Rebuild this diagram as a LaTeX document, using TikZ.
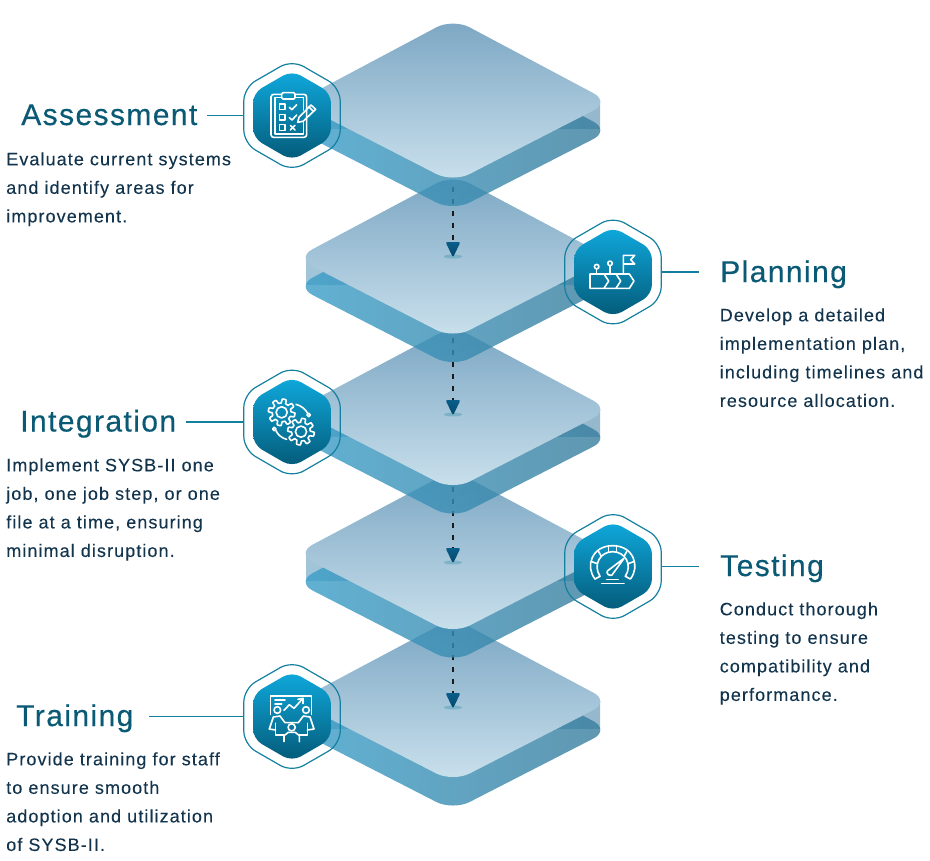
\documentclass[tikz,border=0pt]{standalone}
\usepackage{fontspec}
\setmainfont{Liberation Sans}
\newfontfamily\titlefont[LetterSpace=4.7,FakeBold=0.4]{Liberation Sans}
\newfontfamily\bodyfont[LetterSpace=6,FakeBold=0.1]{Liberation Sans}
\usetikzlibrary{shapes.geometric}
\definecolor{titlecol}{HTML}{0B5A75}
\definecolor{bodycol}{HTML}{12344D}
\definecolor{linecol}{HTML}{14809F}
\definecolor{coretop}{HTML}{0FA9DD}
\definecolor{coremid}{HTML}{0A83AE}
\definecolor{corebot}{HTML}{045A78}
\definecolor{sliverL}{HTML}{A0C4D8}
\definecolor{sliverR}{HTML}{95B8CC}
\definecolor{sideL}{HTML}{3A9EC9}
\definecolor{sideM}{HTML}{3F98C0}
\definecolor{sideR}{HTML}{387C9C}
\definecolor{topT}{HTML}{7BA6C3}
\definecolor{topB}{HTML}{CBE1ED}
\definecolor{arrowT}{HTML}{0A5E8A}
\definecolor{arrowB}{HTML}{04466B}
\definecolor{shadowc}{HTML}{2F8FA5}
\tikzset{
  titlenode/.style={anchor=base west,inner sep=0pt,text=titlecol,font=\titlefont\fontsize{22.5pt}{27pt}\selectfont},
  bodynode/.style={anchor=north west,inner sep=0pt,text=bodycol,align=left,font=\bodyfont\fontsize{13.5pt}{21.4pt}\selectfont},
  hexring/.style={regular polygon,regular polygon sides=6,shape border rotate=30,minimum size=83.5pt,inner sep=0pt,rounded corners=10pt,draw=linecol,line width=.9pt},
  hexcore/.style={regular polygon,regular polygon sides=6,shape border rotate=30,minimum size=67.5pt,inner sep=0pt,rounded corners=7.5pt,top color=coretop,middle color=coremid,bottom color=corebot},
  leader/.style={draw=linecol,line width=.9pt},
  icon/.style={draw=white,line width=1.2pt,line join=round,line cap=round},
  flow/.style={draw=black!90,line width=1pt,dash pattern=on 4pt off 5pt},
}
\newcommand{\slab}[1]{%
  \fill[left color=sliverL,right color=sliverR] (306,#1+1) rectangle (600,#1+28);
  \shade[rounded corners=14pt,left color=sideL,middle color=sideM,right color=sideR,fill opacity=.8]
     (453,#1+28.5-82) -- (610,#1+28.5+1.5) -- (453,#1+28.5+82) -- (296,#1+28.5+1.5) -- cycle;
  \shade[rounded corners=14pt,top color=topT,bottom color=topB]
     (453,#1-82) -- (610,#1+1.5) -- (453,#1+82) -- (296,#1+1.5) -- cycle;
}
\newcommand{\flowarrow}[3]{% name, start y, triangle top y
  \coordinate (#1s) at (453,#2);
  \coordinate (#1e) at (453,#3);
  \draw[flow] (#1s) -- (#1e);
  \fill[shadowc,opacity=.35] (453,#3+14.5) ellipse [x radius=9,y radius=2];
  \shade[top color=arrowT,bottom color=arrowB,rounded corners=1.5pt] (445.5,#3) -- (460.5,#3) -- (453,#3+15.5) -- cycle;
}
\begin{document}
\begin{tikzpicture}[x=.75pt,y=-.75pt]
\useasboundingbox (0,0) rectangle (930,860);
% slabs, lowest first
\slab{700}
\flowarrow{a4}{631}{693}
\slab{552}
\flowarrow{a3}{487}{548}
\slab{408}
\flowarrow{a2}{338}{400}
\slab{256.5}
\flowarrow{a1}{187}{242}
\slab{100.5}
% hexagons
\foreach \n/\cx/\cy in {h1/292/115.5,h2/613/272,h3/292/422,h4/613/566.5,h5/292/716.5}{
  \node[hexring] (\n) at (\cx,\cy) {};
  \node[hexcore] (\n c) at (\cx,\cy) {};
}
% leaders
\coordinate (l1) at (207,115.5);
\coordinate (l2) at (699,272);
\coordinate (l3) at (186,422);
\coordinate (l4) at (699,566.5);
\coordinate (l5) at (149,716.5);
\draw[leader] (l1) -- (h1.west);
\draw[leader] (l2) -- (h2.east);
\draw[leader] (l3) -- (h3.west);
\draw[leader] (l4) -- (h4.east);
\draw[leader] (l5) -- (h5.west);
% titles
\node[titlenode] (t1) at (21,125) {Assessment};
\node[titlenode] (t2) at (720,282) {Planning};
\node[titlenode] (t3) at (20,431.5) {Integration};
\node[titlenode] (t4) at (720,576) {Testing};
\node[titlenode] (t5) at (16,726) {Training};
% bodies
\node[bodynode] (b1) at (6,152) {Evaluate current systems\\and identify areas for\\improvement.};
\node[bodynode] (b2) at (719.5,308) {Develop a detailed\\implementation plan,\\including timelines and\\resource allocation.};
\node[bodynode] (b3) at (6,458) {Implement SYSB-II one\\job, one job step, or one\\file at a time, ensuring\\minimal disruption.};
\node[bodynode] (b4) at (719.5,602) {Conduct thorough\\testing to ensure\\compatibility and\\performance.};
\node[bodynode] (b5) at (6,752) {Provide training for staff\\to ensure smooth\\adoption and utilization\\of SYSB-II.};
% icon 1: clipboard
\begin{scope}[shift={(230,50)},x=.25pt,y=-.25pt,icon]
  \draw[rounded corners=2pt] (155,133) -- (123,133) -- (123,262) -- (230,262) -- (230,133) -- (195,133);
  \draw (135,143) -- (135,252) -- (220,252) -- (220,218);
  \draw (220,143) -- (220,180);
  \draw (135,143) -- (155,143);\draw (195,143) -- (220,143);
  \draw[rounded corners=1pt] (155,128) rectangle (195,147);
  \draw (148,162) rectangle (165,179);
  \draw (148,193) rectangle (165,210);
  \draw (148,224) rectangle (165,241);
  \draw (178,172) -- (186,179) -- (200,164);
  \draw (178,203) -- (186,210) -- (200,195);
  \draw (181,226) -- (195,240);\draw (195,226) -- (181,240);
  \draw (203,217) -- (207,202) -- (243,165) -- (257,178) -- (219,214) -- cycle;
  \draw (237,171) -- (250,184);
\end{scope}
% icon 2: chevrons and flag
\begin{scope}[shift={(550,210)},x=.25pt,y=-.25pt,icon]
  \draw (120,192) -- (238,192) -- (252,213) -- (238,235) -- (120,235) -- cycle;
  \draw (162,192) -- (176,213) -- (162,235);
  \draw (198,192) -- (212,213) -- (198,235);
  \draw (140,170) circle [radius=1.7pt];
  \draw (140,177) -- (140,192);
  \draw (180,160) circle [radius=1.7pt];
  \draw (180,167) -- (180,192);
  \draw (220,192) -- (220,136) -- (254,136) -- (242,149) -- (254,162) -- (220,162);
\end{scope}
% icon 3: gears
\begin{scope}[shift={(230,360)},x=.25pt,y=-.25pt,icon]
  \draw plot[samples=121,domain=0:360,variable=\t]
    ({155+(34+6*max(-1,min(1,3*sin(8*\t))))*cos(\t)},{157+(34+6*max(-1,min(1,3*sin(8*\t))))*sin(\t)}) -- cycle;
  \draw (155,157) circle [radius=4.2pt];
  \draw plot[samples=121,domain=0:360,variable=\t]
    ({213+(34+6*max(-1,min(1,3*sin(8*\t))))*cos(\t)},{215+(34+6*max(-1,min(1,3*sin(8*\t))))*sin(\t)}) -- cycle;
  \draw (213,215) circle [radius=4.2pt];
  \draw (198,133) .. controls (213,137) and (226,147) .. (233,160);
  \draw (236,165) circle [radius=1.3pt];
  \draw (138,212) .. controls (143,224) and (155,234) .. (170,238);
  \draw (133,207) circle [radius=1.3pt];
\end{scope}
% icon 4: gauge
\begin{scope}[shift={(550,505)},x=.25pt,y=-.25pt,icon]
  \draw (135,222) .. controls (105,185) and (125,122) .. (188,122) .. controls (251,122) and (271,185) .. (241,222) -- (226,214);
  \draw (135,222) -- (150,214);
  \draw (150,214) .. controls (128,180) and (150,140) .. (188,140) .. controls (226,140) and (248,180) .. (226,214);
  \draw (146,140) -- (154,154);
  \draw (230,140) -- (222,154);
  \draw (125,170) -- (142,176);
  \draw (251,170) -- (234,176);
  \draw (176,122) -- (176,140);
  \draw (200,122) -- (200,140);
  \draw (172,198) -- (222,160) -- (186,210) .. controls (178,214) and (168,206) .. (172,198) -- cycle;
  \draw (170,224) -- (205,224);
  \draw (155,236) -- (222,236);
\end{scope}
% icon 5: meeting
\begin{scope}[shift={(230,655)},x=.25pt,y=-.25pt,icon]
  \draw (122,178) -- (122,123) -- (245,123) -- (245,178);
  \draw (135,135) -- (165,135);
  \draw (135,147) -- (155,147);
  \draw (162,166) -- (178,149) -- (192,160) -- (218,131);
  \draw (204,133) -- (219,130) -- (219,146);
  \draw (142,165) circle [radius=2.5pt];
  \draw (228,165) circle [radius=2.5pt];
  \draw (185,217) circle [radius=2.7pt];
  \draw (118,222) -- (130,186) -- (150,183) -- (165,203) -- (205,203) -- (220,183) -- (240,186) -- (252,222) -- (232,225);
  \draw (118,222) -- (137,225);
  \draw (137,205) -- (137,240) -- (162,240);
  \draw (232,205) -- (232,240) -- (208,240);
  \draw (162,260) -- (162,242) -- (175,232) -- (196,232) -- (208,242) -- (208,260);
\end{scope}
\end{tikzpicture}
\end{document}
